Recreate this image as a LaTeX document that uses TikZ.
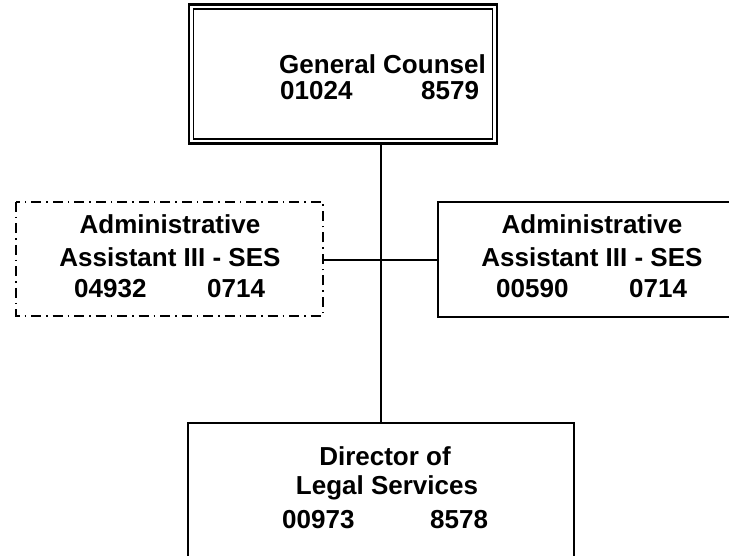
\documentclass[tikz,border=0pt]{standalone}
\usepackage{fontspec}
\setmainfont{Liberation Sans}
\begin{document}
\begin{tikzpicture}[x=1pt,y=-1pt,
  box/.style={draw,line width=1.8pt},
  dashbox/.style={draw,line width=1.4pt,dash pattern=on 10pt off 5pt on 1.5pt off 5pt},
  wire/.style={draw,line width=1.4pt},
  txt/.style={anchor=base,inner sep=0pt,font=\fontsize{26}{31}\selectfont\bfseries},
  num/.style={anchor=base west,inner sep=0pt,font=\fontsize{26}{31}\selectfont\bfseries}]
\useasboundingbox (0,0) rectangle (729,556);

% General Counsel (double frame)
\draw[line width=2.6pt] (189,4.5) rectangle (497,143.5);
\draw[line width=1.6pt] (193.5,9) rectangle (492.5,139);
\coordinate (gc) at (381,143.5);
\node[txt] (gct) at (382.5,74) {General Counsel};
\node[num] (gcn1) at (280,100) {01024};
\node[num] (gcn2) at (421,100) {8579};

% Administrative Assistant (dash-dot frame)
\draw[dashbox] (16,202) rectangle (323,316);
\coordinate (aal) at (323,260);
\node[txt] (aa1) at (170,234) {Administrative};
\node[txt] (aa2) at (170,267) {Assistant III - SES};
\node[num] (aan1) at (74,298) {04932};
\node[num] (aan2) at (207,298) {0714};

% Administrative Assistant (solid frame, open to the right)
\draw[box] (740,202) -- (438,202) -- (438,317) -- (740,317);
\coordinate (aar) at (438,260);
\node[txt] (ab1) at (592,234) {Administrative};
\node[txt] (ab2) at (592,267) {Assistant III - SES};
\node[num] (abn1) at (496,298) {00590};
\node[num] (abn2) at (629,298) {0714};

% Director of Legal Services
\draw[box] (188,600) -- (188,423) -- (574,423) -- (574,600);
\coordinate (dl) at (381,423);
\node[txt] (dl1) at (385,465) {Director of};
\node[txt] (dl2) at (387,494) {Legal Services};
\node[num] (dln1) at (282,528) {00973};
\node[num] (dln2) at (430,528) {8578};

% connectors
\draw[wire] (gc) -- (dl);
\draw[wire] (aal) -- (aar);
\end{tikzpicture}
\end{document}
